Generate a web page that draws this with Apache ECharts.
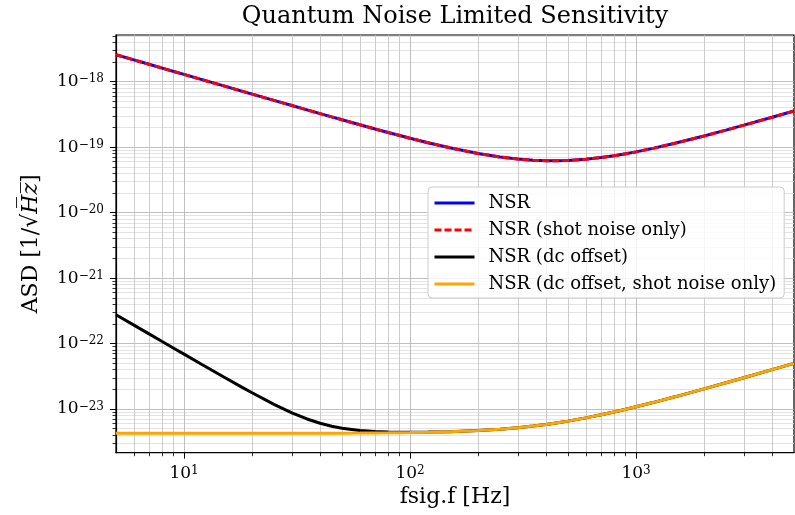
<!DOCTYPE html>
<html><head><meta charset="utf-8">
<script src="https://cdn.jsdelivr.net/npm/echarts@6/dist/echarts.min.js"></script>
<style>html,body{margin:0;padding:0;background:#fff}#c{width:795px;height:515px}</style>
</head><body><div id="c"></div>
<script>
// ---- data ----
const freqs = [5,6,7,8,9,10,12,15,18,20,25,30,35,40,45,50,60,70,80,90,100,120,150,200,250,300,350,400,450,500,600,700,800,900,1000,1200,1500,2000,2500,3000,4000,5000];
const nsr = [2.580e-18,2.150e-18,1.843e-18,1.613e-18,1.433e-18,1.291e-18,1.076e-18,8.612e-19,7.181e-19,6.466e-19,5.180e-19,4.324e-19,3.713e-19,3.256e-19,2.902e-19,2.619e-19,2.197e-19,1.898e-19,1.675e-19,1.504e-19,1.368e-19,1.169e-19,9.764e-20,7.990e-20,7.070e-20,6.575e-20,6.320e-20,6.215e-20,6.210e-20,6.274e-20,6.543e-20,6.933e-20,7.399e-20,7.917e-20,8.471e-20,9.653e-20,1.154e-19,1.483e-19,1.822e-19,2.166e-19,2.860e-19,3.558e-19];
const nsrShot = [2.580e-18,2.150e-18,1.843e-18,1.613e-18,1.433e-18,1.291e-18,1.076e-18,8.612e-19,7.181e-19,6.466e-19,5.180e-19,4.324e-19,3.713e-19,3.256e-19,2.902e-19,2.619e-19,2.197e-19,1.898e-19,1.675e-19,1.504e-19,1.368e-19,1.169e-19,9.764e-20,7.990e-20,7.070e-20,6.575e-20,6.320e-20,6.215e-20,6.210e-20,6.274e-20,6.543e-20,6.933e-20,7.399e-20,7.917e-20,8.471e-20,9.653e-20,1.154e-19,1.483e-19,1.822e-19,2.166e-19,2.860e-19,3.558e-19];
const dcOffset = [2.750e-22,1.910e-22,1.404e-22,1.075e-22,8.498e-23,6.888e-23,4.793e-23,3.085e-23,2.164e-23,1.771e-23,1.180e-23,8.746e-24,7.049e-24,6.057e-24,5.458e-24,5.087e-24,4.697e-24,4.529e-24,4.455e-24,4.425e-24,4.418e-24,4.440e-24,4.514e-24,4.695e-24,4.924e-24,5.193e-24,5.492e-24,5.820e-24,6.170e-24,6.539e-24,7.323e-24,8.153e-24,9.016e-24,9.904e-24,1.081e-23,1.266e-23,1.550e-23,2.033e-23,2.521e-23,3.012e-23,3.999e-23,4.988e-23];
const dcOffsetShot = [4.250e-24,4.250e-24,4.250e-24,4.251e-24,4.251e-24,4.251e-24,4.252e-24,4.253e-24,4.254e-24,4.255e-24,4.257e-24,4.260e-24,4.265e-24,4.269e-24,4.273e-24,4.279e-24,4.291e-24,4.306e-24,4.324e-24,4.343e-24,4.364e-24,4.414e-24,4.504e-24,4.692e-24,4.923e-24,5.192e-24,5.492e-24,5.820e-24,6.170e-24,6.539e-24,7.323e-24,8.153e-24,9.016e-24,9.904e-24,1.081e-23,1.266e-23,1.550e-23,2.033e-23,2.521e-23,3.012e-23,3.999e-23,4.988e-23];
const seriesNames = ['NSR','NSR (shot noise only)','NSR (dc offset)','NSR (dc offset, shot noise only)'];
const xMajorTicks = [10,100,1000];
const yMajorTicks = [1e-23,1e-22,1e-21,1e-20,1e-19,1e-18];
const xRange = [5,5000];
const yRange = [2.153e-24,5.164e-18];

// ---- helpers ----
const L = Math.log10;
const F = '"DejaVu Serif", serif';
function pts(vals){ return freqs.map((f,i)=>[L(f), L(vals[i])]); }
function minorLogs(lo, hi){
  const out=[];
  for(let n=Math.floor(L(lo))-1;n<=Math.ceil(L(hi));n++){
    for(let k=2;k<=9;k++){ const v=L(k)+n; if(v>L(lo)+1e-6 && v<L(hi)-1e-6) out.push(v); }
  }
  return out;
}
function expLabel(v){
  const e=Math.round(v);
  return '{b|10}{s|'+(e<0?'\u2212':'')+Math.abs(e)+'}';
}
const rich = {
  b:{fontSize:17,fontFamily:F,color:'#000',lineHeight:17},
  s:{fontSize:12,fontFamily:F,color:'#000',lineHeight:12,verticalAlign:'top'}
};

const chart = echarts.init(document.getElementById('c'), null, {renderer:'canvas'});
const lineBase = {type:'line', showSymbol:false, symbol:'none', smooth:false, animation:false, emphasis:{disabled:true}, xAxisIndex:0, yAxisIndex:0};
chart.setOption({
  animation:false,
  backgroundColor:'#fff',
  graphic:[{type:'text', x:455, y:17, z:10,
    style:{text:'Quantum Noise Limited Sensitivity', font:'24px "DejaVu Serif", serif', fill:'#000', align:'center', verticalAlign:'middle', textAlign:'center', textVerticalAlign:'middle'}}],
  grid:{left:116, right:1, top:35, bottom:62.3, containLabel:false, outerBoundsMode:'none', show:true, borderColor:'#000', borderWidth:1.2, backgroundColor:'transparent'},
  legend:{
    orient:'vertical', left:428, top:187, padding:[7,8,5,5],
    itemWidth:40, itemHeight:14, itemGap:9,
    backgroundColor:'rgba(255,255,255,0.8)', borderColor:'#cccccc', borderWidth:1, borderRadius:4,
    textStyle:{fontSize:18, fontFamily:F, color:'#000', lineHeight:18, padding:[0,0,0,9]},
    itemStyle:{opacity:0},
    lineStyle:{width:3},
    data:seriesNames
  },
  xAxis:[
    {type:'value', min:L(xRange[0]), max:L(xRange[1]), position:'bottom',
     name:'fsig.f [Hz]', nameLocation:'middle', nameGap:33,
     nameTextStyle:{fontSize:22, fontFamily:F, color:'#000'},
     axisLine:{show:true, onZero:false, lineStyle:{color:'#000', width:1.2}},
     axisTick:{show:true, inside:false, length:6, customValues:xMajorTicks.map(L), lineStyle:{color:'#000', width:1}},
     axisLabel:{show:true, margin:12, customValues:xMajorTicks.map(L), formatter:expLabel, rich:rich},
     splitLine:{show:true, lineStyle:{color:'#b0b0b0', width:0.8}}},
    {type:'value', min:L(xRange[0]), max:L(xRange[1]), position:'bottom',
     axisLine:{show:false, onZero:false},
     axisTick:{show:true, inside:false, length:3.5, customValues:minorLogs(xRange[0],xRange[1]), lineStyle:{color:'#000', width:0.8}},
     axisLabel:{show:false},
     splitLine:{show:true, lineStyle:{color:'#c0c0c0', width:0.8}}}
  ],
  yAxis:[
    {type:'value', min:L(yRange[0]), max:L(yRange[1]), position:'left',
     name:'{n|ASD [1/\u221A}{i|H\u0305z\u0305}{n|]}', nameLocation:'middle', nameGap:74, nameRotate:90,
     nameTextStyle:{fontSize:22, fontFamily:F, color:'#000', rich:{n:{fontSize:22,fontFamily:F,color:'#000'}, i:{fontSize:22,fontFamily:F,fontStyle:'italic',color:'#000'}}},
     axisLine:{show:true, onZero:false, lineStyle:{color:'#000', width:1.2}},
     axisTick:{show:true, inside:false, length:6, customValues:yMajorTicks.map(L), lineStyle:{color:'#000', width:1}},
     axisLabel:{show:true, margin:12, customValues:yMajorTicks.map(L), formatter:expLabel, rich:rich},
     splitLine:{show:true, lineStyle:{color:'#b0b0b0', width:0.8}}},
    {type:'value', min:L(yRange[0]), max:L(yRange[1]), position:'left',
     axisLine:{show:false, onZero:false},
     axisTick:{show:true, inside:false, length:3.5, customValues:minorLogs(yRange[0],yRange[1]), lineStyle:{color:'#000', width:0.8}},
     axisLabel:{show:false},
     splitLine:{show:true, lineStyle:{color:'#dcdcdc', width:0.8}}}
  ],
  series:[
    Object.assign({}, lineBase, {name:seriesNames[0], data:pts(nsr), z:3, lineStyle:{color:'#0000ff', width:3}, itemStyle:{color:'#0000ff'}}),
    Object.assign({}, lineBase, {name:seriesNames[1], data:pts(nsrShot), z:4, lineStyle:{color:'#ff0000', width:3, type:[7,3]}, itemStyle:{color:'#ff0000'}}),
    Object.assign({}, lineBase, {name:seriesNames[2], data:pts(dcOffset), z:5, lineStyle:{color:'#000000', width:3}, itemStyle:{color:'#000000'}}),
    Object.assign({}, lineBase, {name:seriesNames[3], data:pts(dcOffsetShot), z:6, lineStyle:{color:'#ffa500', width:3}, itemStyle:{color:'#ffa500'}})
  ]
});
</script></body></html>
